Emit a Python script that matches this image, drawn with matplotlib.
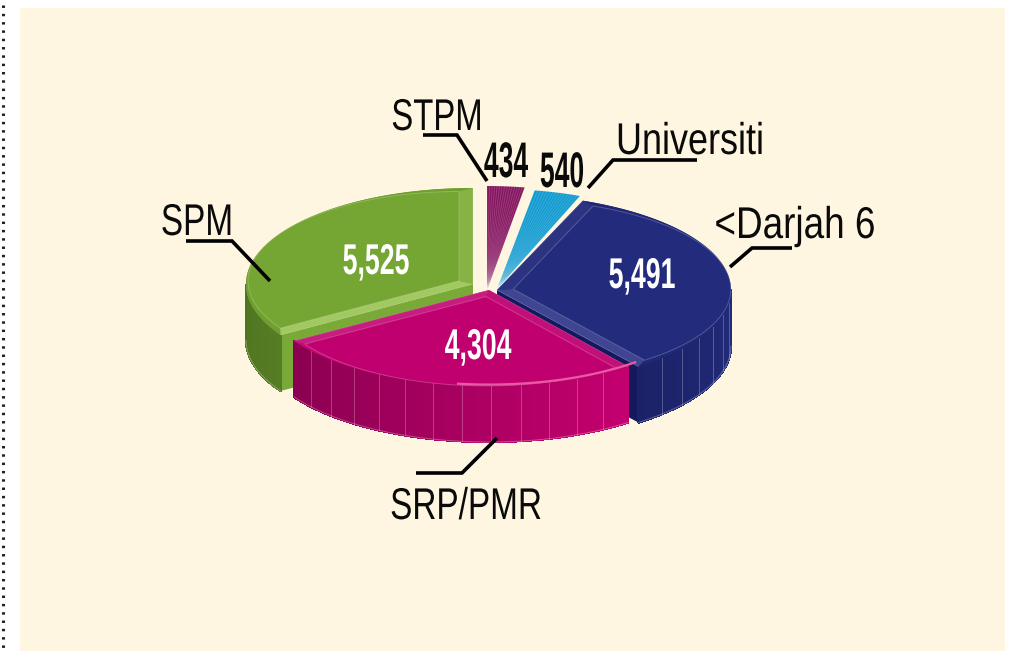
import numpy as np
import matplotlib
matplotlib.use("Agg")
import matplotlib.pyplot as plt
from matplotlib.patches import Polygon, Rectangle
from matplotlib.patheffects import AbstractPathEffect
from matplotlib.transforms import Affine2D
from matplotlib.colors import to_rgb

categories = ["STPM", "Universiti", "<Darjah 6", "SRP/PMR", "SPM"]
values = [434, 540, 5491, 4304, 5525]
value_labels = ["434", "540", "5,491", "4,304", "5,525"]

W, H = 1011, 651
DEPTH = 56
apex = [(487, 290), (497, 289), (497, 290), (489, 290), (473, 284)]
rx_s = [226, 226, 234, 230, 227]
ry_s = [104, 100, 96, 96, 96]
top_col = ["#85155f", "#129bd0", "#232c7c", "#c0006f", "#75a633"]
rim_col = ["#8e2a6c", "#2aa8d8", "#1f2874", "#c40a75", "#6f9f30"]
start_col = ["#8e2a6c", "#2aa8d8", "#2c3482", "#c21078", "#a2c961"]
end_col = ["#85155f", "#0f8fc4", "#3f4590", "#c71c80", "#86b344"]
wall_a = ["#85155f", "#129bd0", "#1b2268", "#8a0050", "#4f7420"]
wall_b = ["#85155f", "#129bd0", "#232c7c", "#c4006f", "#567d24"]
cut_col = [None, None, "#14185e", None, "#79a936"]
facet_lines = [False, False, True, True, False]
fan_lines = [True, True, False, False, False]
order = [4, 0, 1, 2, 3]

total = sum(values)
edges = 90 - np.cumsum([0] + values) / total * 360

fig = plt.figure(figsize=(W / 100, H / 100), dpi=100, facecolor="white")
ax = fig.add_axes([0, 0, 1, 1])
ax.set_xlim(0, W)
ax.set_ylim(H, 0)
ax.axis("off")
ax.add_patch(Rectangle((20, 8), 985, 643, fc="#fef6e0", ec="none", zorder=0))
ax.plot([3, 3], [5, H], color="#222222", lw=2.2, ls=(0, (0.8, 1.92)), zorder=1)


class Squeeze(AbstractPathEffect):
    """Condense glyphs horizontally about a display x, the text stays a Text."""

    def __init__(self, cx, sx):
        super().__init__()
        self.cx, self.sx = cx, sx

    def draw_path(self, renderer, gc, tpath, affine, rgbFace=None):
        t = affine + Affine2D().translate(-self.cx, 0).scale(self.sx, 1).translate(self.cx, 0)
        renderer.draw_path(gc, tpath, t, rgbFace)


def arc(i, t0, t1, r=1.0, dz=0, n=80):
    t = np.radians(np.linspace(t0, t1, n))
    ax_, ay_ = apex[i]
    return np.column_stack([ax_ + rx_s[i] * r * np.cos(t), ay_ - ry_s[i] * r * np.sin(t) + dz])


def lerp(a, b, f):
    a, b = np.array(to_rgb(a)), np.array(to_rgb(b))
    return tuple(a + (b - a) * f)


z = 2
for i in order:
    t0, t1 = edges[i], edges[i + 1]
    ax_, ay_ = apex[i]
    if cut_col[i]:
        cut_t = t0 if i == 4 else t1
        rim = arc(i, cut_t, cut_t, n=1)[0]
        ax.add_patch(Polygon([(ax_, ay_), rim, rim + (0, DEPTH), (ax_, ay_ + DEPTH)],
                             fc=cut_col[i], ec="none", zorder=z))
    lo, hi = max(t1, -180), min(t0, 0)
    if hi > lo:
        steps = np.arange(hi, lo, -1.0).tolist() + [lo]
        for k in range(len(steps) - 1):
            a = arc(i, steps[k], steps[k + 1], n=2)
            f = (steps[k] - lo) / max(hi - lo, 1)
            c = lerp(wall_a[i], wall_b[i], f)
            ax.add_patch(Polygon([a[0], a[1], a[1] + (0, DEPTH), a[0] + (0, DEPTH)],
                                 fc=c, ec=c, lw=1.0, antialiased=False, zorder=z))
        if facet_lines[i]:
            for s in np.arange(hi, lo, -(hi - lo) / max(int((hi - lo) / 7), 1))[1:]:
                p = arc(i, s, s, n=1)[0]
                ax.plot([p[0], p[0]], [p[1], p[1] + DEPTH], color="white", alpha=0.25, lw=0.7, zorder=z)
        b = arc(i, hi, lo, dz=DEPTH)
        ax.plot(b[:, 0], b[:, 1], color="white", alpha=0.3, lw=0.7, zorder=z)

    outer = arc(i, t0, t1)
    tm = np.radians((t0 + t1) / 2)
    big = values[i] > 1000
    ap = np.array([ax_, ay_], dtype=float)
    ax.add_patch(Polygon(np.vstack([ap, outer]), fc=top_col[i], ec="none", zorder=z + 1))
    if big:
        ia = ap + np.array([rx_s[i] * 0.07 * np.cos(tm), -ry_s[i] * 0.07 * np.sin(tm)])
        inner = ia + (outer - ap) * 0.93
        ax.add_patch(Polygon(np.vstack([outer, inner[::-1]]), fc=rim_col[i], ec="none", zorder=z + 1))
        ax.add_patch(Polygon([ap, outer[0], inner[0], ia], fc=start_col[i], ec="none", zorder=z + 1))
        ax.add_patch(Polygon([ap, outer[-1], inner[-1], ia], fc=end_col[i], ec="none", zorder=z + 1))
        ax.add_patch(Polygon(np.vstack([ia, inner]), closed=True, fc=top_col[i],
                             ec=(1, 1, 1, 0.22), lw=0.7, zorder=z + 1))
    if fan_lines[i]:
        for a in np.linspace(t0, t1, 16)[1:-1]:
            p = arc(i, a, a, n=1)[0]
            ax.plot([ap[0], p[0]], [ap[1], p[1]], color="white", alpha=0.16, lw=0.7, zorder=z + 1)
    ax.plot(*np.vstack([outer[0], ap, outer[-1]]).T, color="white", alpha=0.15, lw=0.7, zorder=z + 1)
    if i == 3:
        hl = arc(i, t0 + 3, t0 - 45, r=0.985)
        ax.plot(hl[:, 0], hl[:, 1], color="#e85aa4", lw=1.6, zorder=z + 1)
    z += 2

font = "Liberation Sans"
label_xy = [(437, 130), (690, 154), (795, 238), (466, 519), (197, 235)]
label_sx = [0.74, 0.81, 0.83, 0.75, 0.75]
for c, (x, y), sx in zip(categories, label_xy, label_sx):
    ax.text(x, y, c, family=font, fontsize=32, color="#0a0a0a", zorder=30, ha="center",
            va="baseline", path_effects=[Squeeze(x, sx)])

num_xy = [(506, 177), (562, 187), (642, 288), (478, 359), (376, 274)]
num_col = ["#0a0a0a", "#0a0a0a", "white", "white", "white"]
num_size = [36, 36, 31, 31, 31]
num_sx = [0.53, 0.53, 0.62, 0.62, 0.62]
for t, (x, y), c, fs, sx in zip(value_labels, num_xy, num_col, num_size, num_sx):
    ax.text(x, y, t, family=font, fontweight="bold", color=c, fontsize=fs, zorder=30, ha="center",
            va="baseline", path_effects=[Squeeze(x, sx)])

leaders = [
    ([423, 457, 487], [135, 135, 181]),
    ([697, 613, 588], [160, 160, 188]),
    ([792, 752, 730], [248, 248, 267]),
    ([416, 462, 497], [473, 473, 438]),
    ([186, 232, 270], [241, 241, 281]),
]
for xs, ys in leaders:
    ax.plot(xs, ys, color="black", lw=2.6, solid_joinstyle="miter", solid_capstyle="butt", zorder=29)

fig.savefig("out.png", dpi=100, facecolor="white")
